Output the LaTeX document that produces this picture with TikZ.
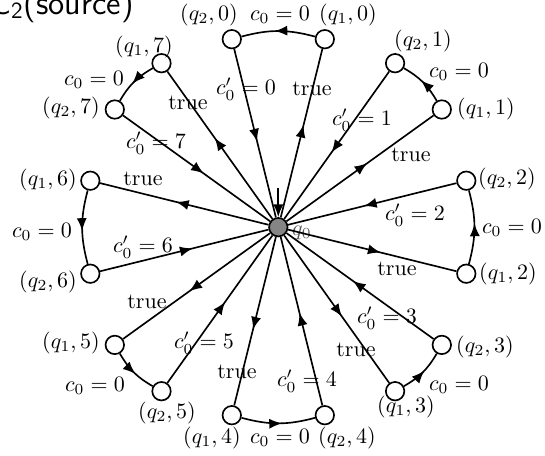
\documentclass[tikz,border=0pt]{standalone}
\usetikzlibrary{arrows.meta,decorations.markings}
\begin{document}
\begin{tikzpicture}[x=0.4545pt, y=0.4545pt,
  state/.style={circle, draw, line width=0.75pt, fill=white, minimum size=8.4pt, inner sep=0pt},
  initstate/.style={state, fill=black!48},
  lbl/.style={inner sep=0pt},
  edge/.style={line width=0.75pt},
  midarrow/.style={postaction={decorate}, decoration={markings,
     mark=at position 0.55 with {\arrow{Latex[length=5.8pt,width=4.6pt]}}}},
  bendy/.style={bend right=15}]
\useasboundingbox (0,0) rectangle (545,456);
\clip (0,0) rectangle (545,456);

% title
\node[anchor=base west, inner sep=0pt, font=\sffamily\fontsize{15}{18}\selectfont] (title) at (-10,442) {C\textsubscript{2}(source)};

% centre
\node[initstate] (q0) at (278.3,228.8) {};
\node[lbl, text=black!65] (q0lab) at (302,223) {$q_0$};
\coordinate (init) at (278.3,268);

% outer states: a = (q1,k), b = (q2,k)
\node[state] (a0) at (324.8,416.8) {};
\node[state] (b0) at (231.8,416.8) {};
\node[state] (a1) at (441.8,346.5) {};
\node[state] (b1) at (395.1,392.8) {};
\node[state] (a2) at (466.3,182.3) {};
\node[state] (b2) at (466.3,275.3) {};
\node[state] (a3) at (395.1,64.8) {};
\node[state] (b3) at (441.8,111.1) {};
\node[state] (a4) at (231.8,40.8) {};
\node[state] (b4) at (324.8,40.8) {};
\node[state] (a5) at (114.8,111.1) {};
\node[state] (b5) at (161.5,64.8) {};
\node[state] (a6) at (90.3,275.3) {};
\node[state] (b6) at (90.3,182.3) {};
\node[state] (a7) at (161.5,392.8) {};
\node[state] (b7) at (114.8,346.5) {};

% state names
\node[lbl] (na0) at (348,441) {$(q_1,0)$};
\node[lbl] (nb0) at (209,441) {$(q_2,0)$};
\node[lbl] (na1) at (486,347) {$(q_1,1)$};
\node[lbl] (nb1) at (423,415) {$(q_2,1)$};
\node[lbl] (na2) at (508,182) {$(q_1,2)$};
\node[lbl] (nb2) at (507,277) {$(q_2,2)$};
\node[lbl] (na3) at (406,49) {$(q_1,3)$};
\node[lbl] (nb3) at (485,109) {$(q_2,3)$};
\node[lbl] (na4) at (212,18) {$(q_1,4)$};
\node[lbl] (nb4) at (347,18) {$(q_2,4)$};
\node[lbl] (na5) at (71,113) {$(q_1,5)$};
\node[lbl] (nb5) at (167,43) {$(q_2,5)$};
\node[lbl] (na6) at (48,276) {$(q_1,6)$};
\node[lbl] (nb6) at (48,174) {$(q_2,6)$};
\node[lbl] (na7) at (144,409) {$(q_1,7)$};
\node[lbl] (nb7) at (71,348) {$(q_2,7)$};

% edges
\draw[edge, -{Latex[length=5.8pt,width=4.6pt]}] (init) -- (q0);
\foreach \k in {0,...,7} {
  \draw[edge, midarrow] (q0) -- (a\k);
  \draw[edge, midarrow] (a\k) to[bendy] (b\k);
  \draw[edge, midarrow] (b\k) -- (q0);
}

% edge labels: c0 = 0
\node[lbl] (z0) at (280,441) {$c_0=0$};
\node[lbl] (z1) at (459,384) {$c_0=0$};
\node[lbl] (z2) at (512,228) {$c_0=0$};
\node[lbl] (z3) at (459,71) {$c_0=0$};
\node[lbl] (z4) at (280,18) {$c_0=0$};
\node[lbl] (z5) at (95,70) {$c_0=0$};
\node[lbl] (z6) at (42,224) {$c_0=0$};
\node[lbl] (z7) at (94,376) {$c_0=0$};

% edge labels: c0' = k
\node[lbl] (p0) at (246,367) {$c'_0=0$};
\node[lbl] (p1) at (362,336) {$c'_0=1$};
\node[lbl] (p2) at (415,241) {$c'_0=2$};
\node[lbl] (p3) at (387,138) {$c'_0=3$};
\node[lbl] (p4) at (307,75) {$c'_0=4$};
\node[lbl] (p5) at (204,113) {$c'_0=5$};
\node[lbl] (p6) at (143,209) {$c'_0=6$};
\node[lbl] (p7) at (156,313) {$c'_0=7$};

% edge labels: true
\node[lbl] (t0) at (312,367) {true};
\node[lbl] (t1) at (411,301) {true};
\node[lbl] (t2) at (397,187) {true};
\node[lbl] (t3) at (356,106) {true};
\node[lbl] (t4) at (237,84) {true};
\node[lbl] (t5) at (147,154) {true};
\node[lbl] (t6) at (143,277) {true};
\node[lbl] (t7) at (188,353) {true};
\end{tikzpicture}
\end{document}
